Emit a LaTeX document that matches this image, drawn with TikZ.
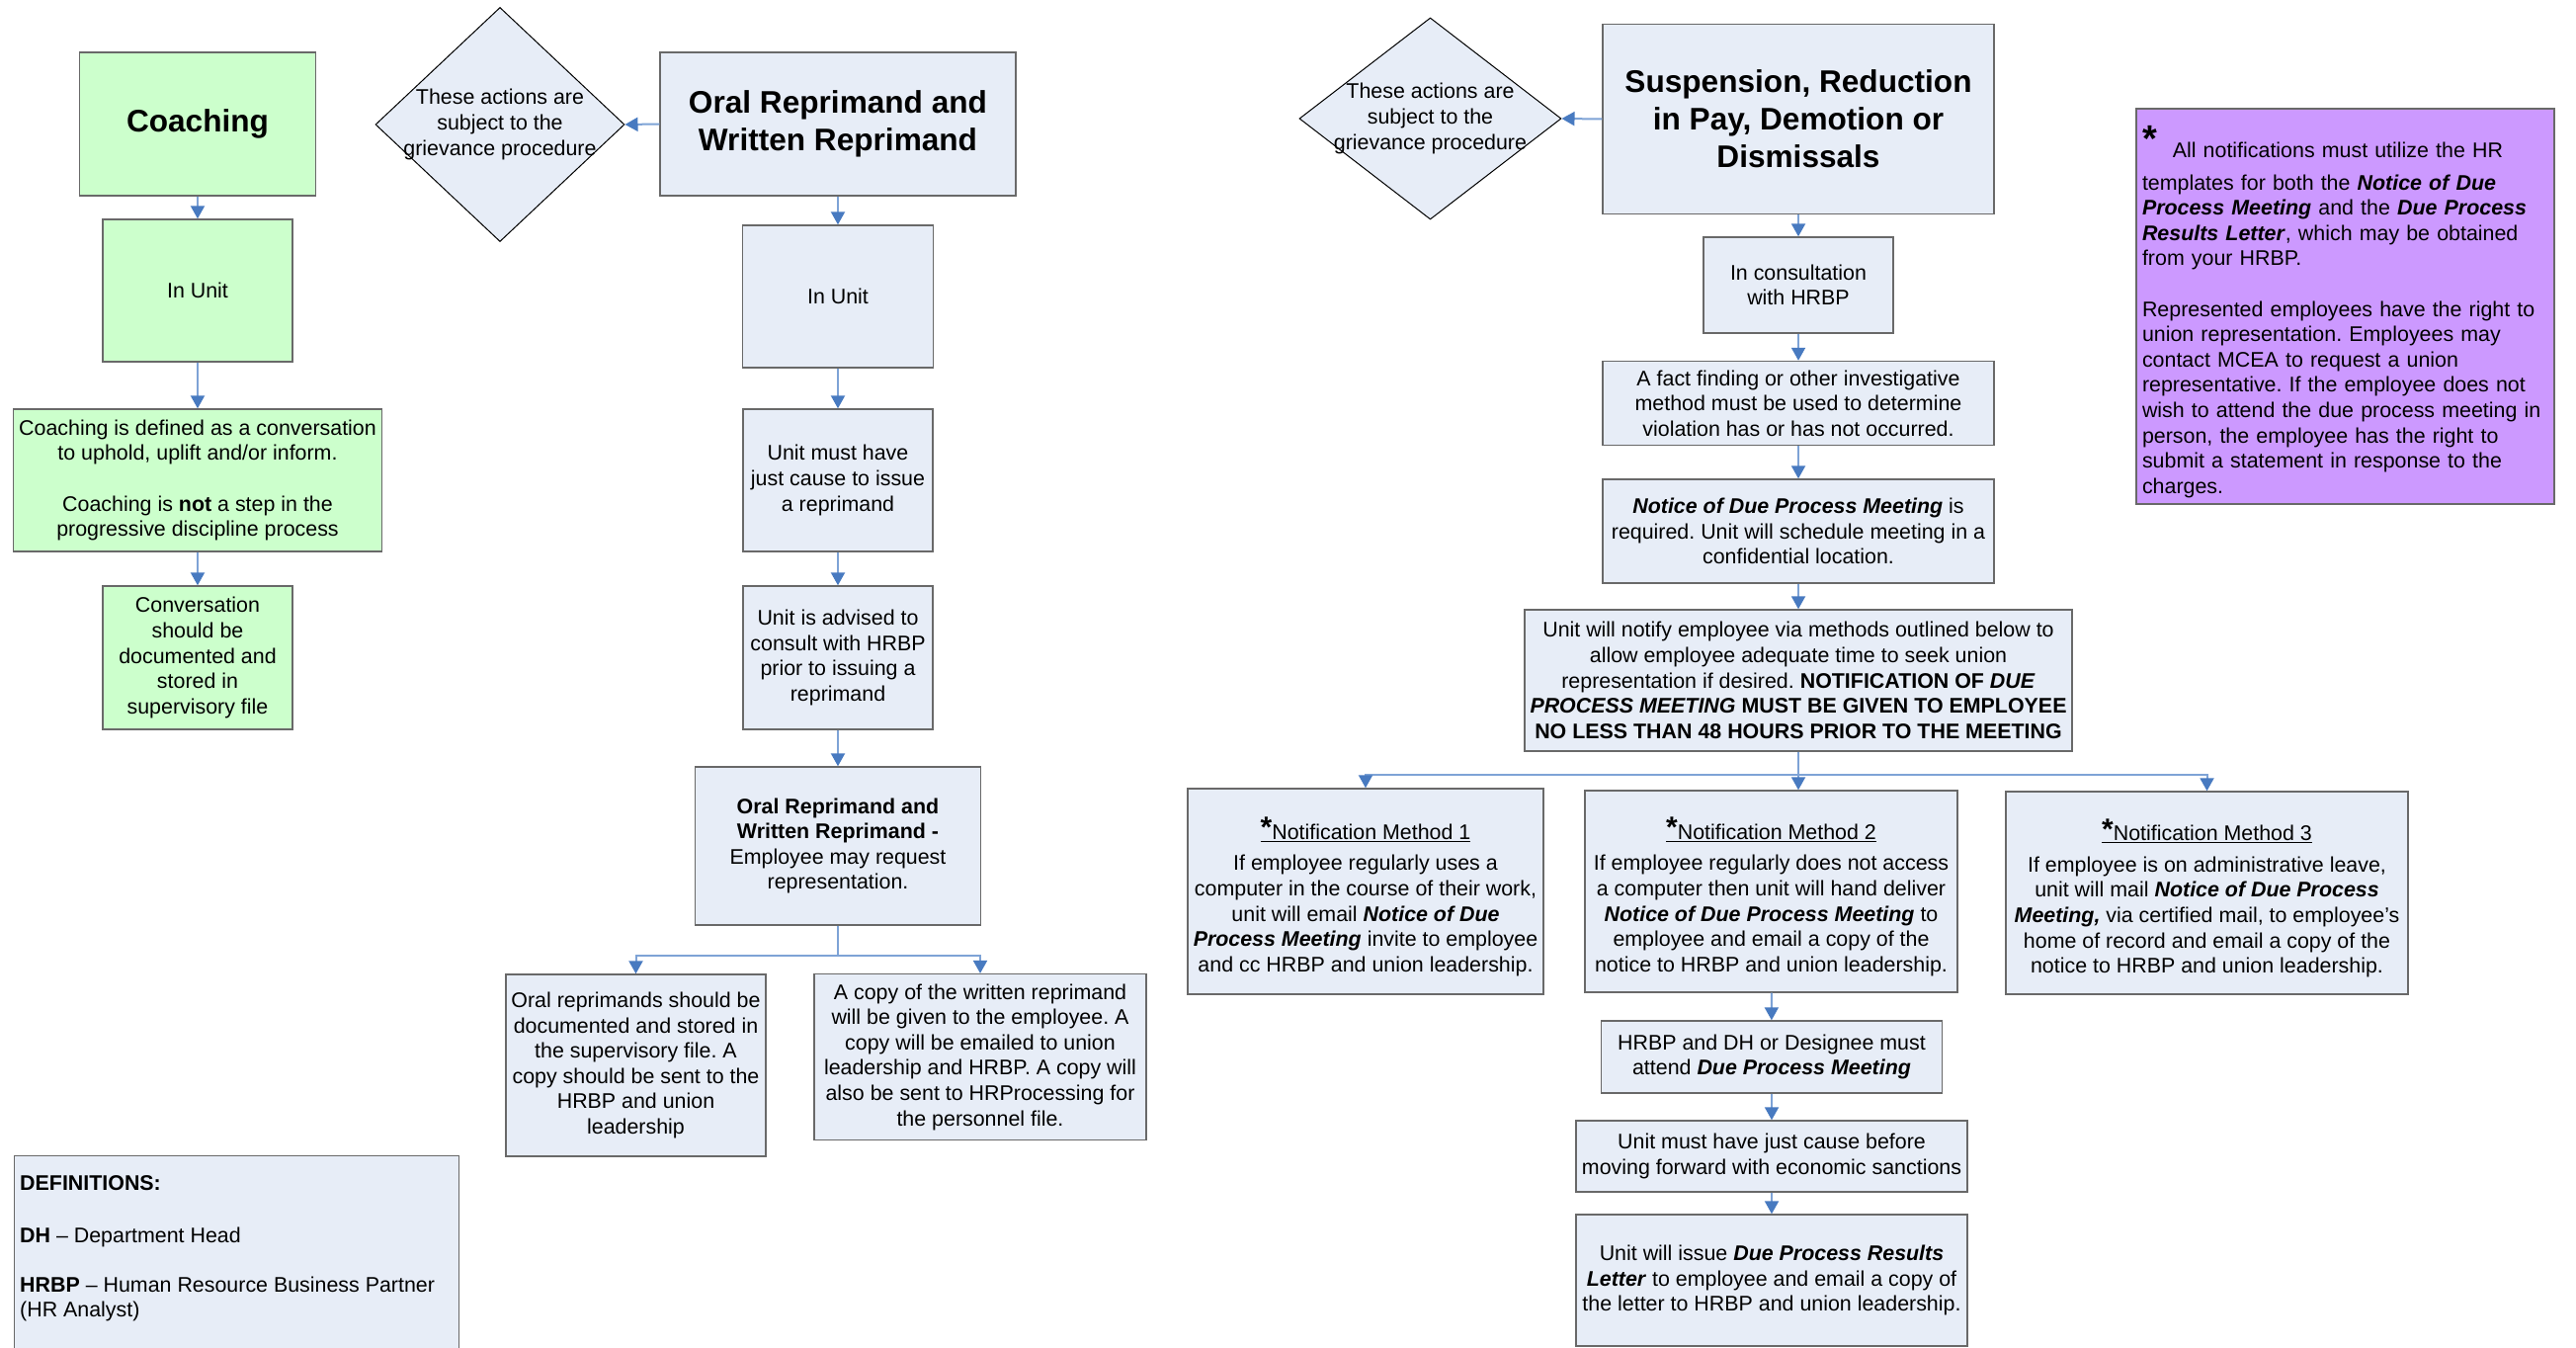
\documentclass[tikz,border=0pt]{standalone}
\usepackage{fontspec}
\setmainfont{Liberation Sans}
\usetikzlibrary{shapes.geometric,arrows.meta}
\definecolor{boxblue}{RGB}{231,237,247}
\definecolor{boxgreen}{RGB}{204,255,204}
\definecolor{boxpurple}{RGB}{204,153,255}
\definecolor{edgegray}{RGB}{105,105,105}
\definecolor{linkblue}{RGB}{126,163,214}
\definecolor{tipblue}{RGB}{72,122,192}
\newcommand{\bodyfont}{\fontsize{21.4}{25.6}\selectfont}
\newcommand{\headfont}{\fontsize{31.6}{38}\selectfont\bfseries}
\newcommand{\boldital}[1]{\textbf{\textit{#1}}}
\newcommand{\methodhead}[1]{\rule{0pt}{33pt}\underline{\raisebox{1.5pt}{\fontsize{30}{30}\selectfont\bfseries *}Notification Method #1}}

\begin{document}
\frenchspacing
\begin{tikzpicture}[x=1pt, y=-1pt,
  bluebox/.style 2 args={draw=edgegray, line width=1.4pt, fill=boxblue, align=center, font=\bodyfont, minimum width=#1, minimum height=#2, inner sep=2pt},
  greenbox/.style 2 args={bluebox={#1}{#2}, fill=boxgreen},
  grieve/.style 2 args={diamond, draw=black, line width=1pt, fill=boxblue, inner sep=0pt, minimum width=#1, minimum height=#2},
  link/.style={draw=linkblue, line width=2pt},
  flow/.style={link, -{Triangle[width=14pt,length=13pt,color=tipblue]}}]
\useasboundingbox (0,0) rectangle (2607,1364);

\node[greenbox={239.5pt}{145pt}, font=\headfont] (coach) at (200,125.5) {Coaching};
\node[greenbox={192pt}{144pt}] (coachunit) at (200,294) {In Unit};
\node[greenbox={372.5pt}{144pt}] (coachdef) at (200,486) {Coaching is defined as a conversation\\to uphold, uplift and/or inform.\\[25.6pt]Coaching is \textbf{not} a step in the\\progressive discipline process};
\node[greenbox={192pt}{145pt}] (coachdoc) at (200,665.5) {Conversation\\should be\\documented and\\stored in\\supervisory file};

\node[grieve={252pt}{237pt}] (gr1) at (506,126) {};
\node[font=\bodyfont, align=center] (gr1txt) at (gr1) {These actions are\\subject to the\\grievance procedure};

\node[bluebox={360pt}{145pt}, font=\headfont] (oralhead) at (848,125.5) {Oral Reprimand and\\Written Reprimand};
\node[bluebox={192.5pt}{144pt}] (oralunit) at (848,300) {In Unit};
\node[bluebox={192pt}{144pt}] (oralcause) at (848,486) {Unit must have\\just cause to issue\\a reprimand};
\node[bluebox={192pt}{145pt}] (oraladvise) at (848,665.5) {Unit is advised to\\consult with HRBP\\prior to issuing a\\reprimand};
\node[bluebox={288.5pt}{160pt}] (oralrep) at (848,856) {\textbf{Oral Reprimand and}\\\textbf{Written Reprimand -}\\Employee may request\\representation.};
\node[bluebox={263pt}{184pt}] (oraldoc) at (643.5,1078) {Oral reprimands should be\\documented and stored in\\the supervisory file. A\\copy should be sent to the\\HRBP and union\\leadership};
\node[bluebox={336pt}{168pt}] (writcopy) at (992,1069.6) {A copy of the written reprimand\\will be given to the employee. A\\copy will be emailed to union\\leadership and HRBP. A copy will\\also be sent to HRProcessing for\\the personnel file.};

\node[bluebox={450pt}{231pt}, anchor=north west] (defs) at (13.5,1169) {};
\node[font=\bodyfont, align=left, anchor=north west, inner sep=0pt] (defstxt) at (20,1189) {\textbf{DEFINITIONS:}\\[28pt]\textbf{DH} -- Department Head\\[24pt]\textbf{HRBP} -- Human Resource Business Partner\\(HR Analyst)};

\node[grieve={265pt}{204pt}] (gr2) at (1447.5,120) {};
\node[font=\bodyfont, align=center] (gr2txt) at (gr2) {These actions are\\subject to the\\grievance procedure};

\node[bluebox={396pt}{192pt}, font=\headfont] (susphead) at (1820,120.5) {Suspension, Reduction\\in Pay, Demotion or\\Dismissals};
\node[bluebox={192pt}{97pt}] (consult) at (1820,288.5) {In consultation\\with HRBP};
\node[bluebox={396pt}{85pt}] (factfind) at (1820,408) {A fact finding or other investigative\\method must be used to determine\\violation has or has not occurred.};
\node[bluebox={396pt}{105pt}] (noticereq) at (1820,537.5) {\boldital{Notice of Due Process Meeting} is\\required. Unit will schedule meeting in a\\confidential location.};
\node[bluebox={554pt}{143pt}] (notify) at (1820,688.5) {Unit will notify employee via methods outlined below to\\allow employee adequate time to seek union\\representation if desired. \textbf{NOTIFICATION OF \textit{DUE}}\\\textbf{\textit{PROCESS MEETING} MUST BE GIVEN TO EMPLOYEE}\\\textbf{NO LESS THAN 48 HOURS PRIOR TO THE MEETING}};

\node[bluebox={360pt}{208pt}] (meth1) at (1382,902) {\methodhead{1}\\[6pt]If employee regularly uses a\\computer in the course of their work,\\unit will email \boldital{Notice of Due}\\\boldital{Process Meeting} invite to employee\\and cc HRBP and union leadership.};
\node[bluebox={377pt}{204pt}] (meth2) at (1792.5,902) {\methodhead{2}\\[6pt]If employee regularly does not access\\a computer then unit will hand deliver\\\boldital{Notice of Due Process Meeting} to\\employee and email a copy of the\\notice to HRBP and union leadership.};
\node[bluebox={407pt}{205pt}] (meth3) at (2233.5,903.5) {\methodhead{3}\\[6pt]If employee is on administrative leave,\\unit will mail \boldital{Notice of Due Process}\\\boldital{Meeting,} via certified mail, to employee’s\\home of record and email a copy of the\\notice to HRBP and union leadership.};

\node[bluebox={345.5pt}{73pt}] (attend) at (1793,1069.5) {HRBP and DH or Designee must\\attend \boldital{Due Process Meeting}};
\node[bluebox={396pt}{72pt}] (sanction) at (1793,1170) {Unit must have just cause before\\moving forward with economic sanctions};
\node[bluebox={396pt}{133pt}] (issue) at (1793,1295.5) {Unit will issue \boldital{Due Process Results}\\\boldital{Letter} to employee and email a copy of\\the letter to HRBP and union leadership.};

\node[bluebox={423pt}{400pt}, fill=boxpurple, align=left, text width=411pt, inner xsep=6pt] (note) at (2373.5,310) {\rule{0pt}{43pt}\raisebox{6pt}{\fontsize{38}{38}\selectfont\bfseries *}\hspace{16pt}All notifications must utilize the HR\\[7.4pt]templates for both the \boldital{Notice of Due}\\\boldital{Process Meeting} and the \boldital{Due Process}\\\boldital{Results Letter}, which may be obtained\\from your HRBP.\\[25.6pt]Represented employees have the right to\\union representation. Employees may\\contact MCEA to request a union\\representative. If the employee does not\\wish to attend the due process meeting in\\person, the employee has the right to\\submit a statement in response to the\\charges.};

\draw[flow] (coach) -- (coachunit);
\draw[flow] (coachunit) -- (coachdef);
\draw[flow] (coachdef) -- (coachdoc);

\draw[flow] (oralhead.west) -- (gr1.east);
\draw[flow] (oralhead) -- (oralunit);
\draw[flow] (oralunit) -- (oralcause);
\draw[flow] (oralcause) -- (oraladvise);
\draw[flow] (oraladvise) -- (oralrep);
\coordinate (orsplit) at (848,966.5);
\draw[link] (oralrep.south) -- (orsplit);
\draw[flow] (orsplit) -| (oraldoc.north);
\draw[flow] (orsplit) -| (writcopy.north);

\draw[flow] (susphead.west) -- (gr2.east);
\draw[flow] (susphead) -- (consult);
\draw[flow] (consult) -- (factfind);
\draw[flow] (factfind) -- (noticereq);
\draw[flow] (noticereq) -- (notify);
\coordinate (ntsplit) at (1820,784);
\draw[link] (notify.south) -- (ntsplit);
\draw[flow] (ntsplit) -| (meth1.north);
\draw[flow] (ntsplit) -- (ntsplit |- meth2.north);
\draw[flow] (ntsplit) -| (meth3.north);
\draw[flow] (meth2) -- (attend);
\draw[flow] (attend) -- (sanction);
\draw[flow] (sanction) -- (issue);
\end{tikzpicture}
\end{document}
